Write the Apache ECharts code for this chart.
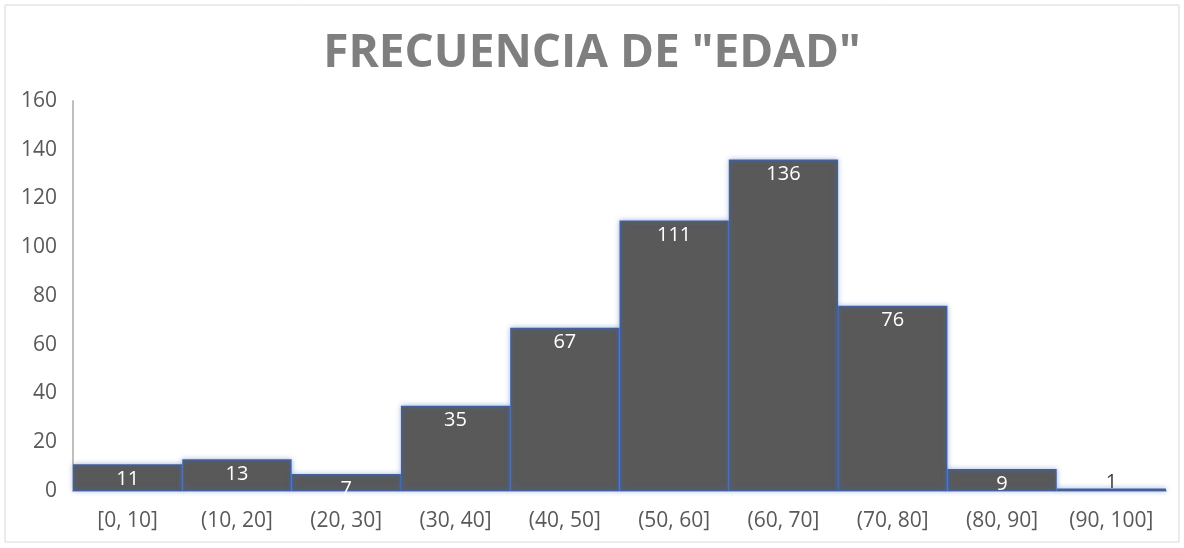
<!DOCTYPE html>
<html>
<head>
<meta charset="utf-8">
<script src="https://cdn.jsdelivr.net/npm/echarts@6/dist/echarts.min.js"></script>
<style>
  html, body { margin: 0; padding: 0; background: #fff; }
  #main { width: 1184px; height: 548px; }
</style>
</head>
<body>
<div id="main"></div>
<script>
var categories = ['[0, 10]', '(10, 20]', '(20, 30]', '(30, 40]', '(40, 50]', '(50, 60]', '(60, 70]', '(70, 80]', '(80, 90]', '(90, 100]'];
var counts = [11, 13, 7, 35, 67, 111, 136, 76, 9, 1];
var yTicks = [0, 20, 40, 60, 80, 100, 120, 140, 160];

var chart = echarts.init(document.getElementById('main'));
var font = 'Open Sans, Noto Sans, sans-serif';

var option = {
    backgroundColor: '#ffffff',
    title: {
        text: 'FRECUENCIA DE "EDAD"',
        left: 'center',
        top: 26,
        textStyle: {
            fontFamily: font,
            fontSize: 46,
            fontWeight: 'bold',
            color: '#7f7f7f'
        }
    },
    graphic: [{
        type: 'rect',
        shape: { x: 5, y: 5, width: 1174, height: 537 },
        style: { fill: 'none', stroke: '#d9d9d9', lineWidth: 1 },
        silent: true
    }],
    grid: { left: 73, right: 18, top: 101, bottom: 57 },
    xAxis: {
        type: 'category',
        data: categories,
        axisLine: { lineStyle: { color: '#bfbfbf', width: 2 } },
        axisTick: { show: false },
        axisLabel: {
            fontFamily: font,
            fontSize: 21,
            color: '#595959',
            margin: 20,
            interval: 0
        }
    },
    yAxis: {
        type: 'value',
        min: yTicks[0],
        max: yTicks[yTicks.length - 1],
        interval: 20,
        axisLine: { show: true, lineStyle: { color: '#bfbfbf', width: 2 } },
        axisTick: { show: false },
        splitLine: { show: false },
        axisLabel: {
            fontFamily: font,
            fontSize: 21,
            color: '#595959',
            margin: 16
        }
    },
    series: [{
        type: 'bar',
        data: counts.map(function (v) {
            if (v < 3) {
                return { value: v, label: { position: 'top', distance: -4, color: '#404040' } };
            }
            return v;
        }),
        barCategoryGap: 0,
        itemStyle: {
            color: '#595959',
            borderColor: '#44609c',
            borderWidth: 1.5,
            shadowColor: 'rgba(68,114,196,0.5)',
            shadowBlur: 5
        },
        label: {
            show: true,
            position: 'insideTop',
            distance: 5,
            fontFamily: font,
            fontSize: 20,
            color: '#ffffff'
        }
    }]
};
chart.setOption(option);
window.addEventListener('resize', function () {
    chart.resize();
});
</script>
</body>
</html>
